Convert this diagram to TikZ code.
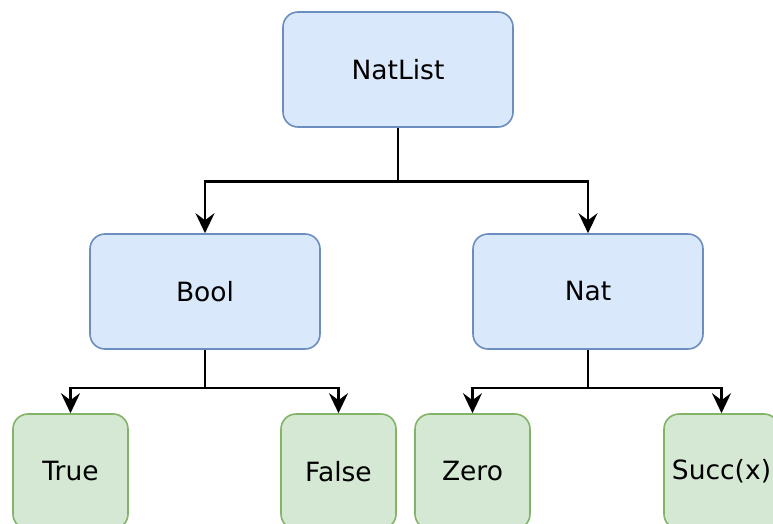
\documentclass[tikz,border=0pt]{standalone}
\usepackage{fontspec}
\setmainfont{DejaVu Sans}
\usetikzlibrary{arrows.meta}
\definecolor{bfill}{HTML}{DAE8FC}
\definecolor{bdraw}{HTML}{6C8EBF}
\definecolor{gfill}{HTML}{D5E8D4}
\definecolor{gdraw}{HTML}{82B366}
\begin{document}
\begin{tikzpicture}[x=1pt,y=-1pt,
  bluebox/.style={draw=bdraw,fill=bfill,line width=1.6pt,rounded corners=15pt,minimum width=230pt,minimum height=115pt,inner sep=0pt,font=\fontsize{26.5}{30}\selectfont},
  greenbox/.style={draw=gdraw,fill=gfill,line width=1.6pt,rounded corners=15pt,minimum width=115pt,minimum height=115pt,inner sep=0pt,font=\fontsize{26.5}{30}\selectfont},
  conn/.style={line width=2.4pt,-{Stealth[length=20pt,width=19pt,inset=7pt]}}]
\useasboundingbox (0,0) rectangle (773,524);
\node[bluebox] (natlist) at (398,69.5) {NatList};
\node[bluebox] (bool) at (205,291.5) {Bool};
\node[bluebox] (nat) at (588,291.5) {Nat};
\node[greenbox] (true) at (70.5,471.5) {True};
\node[greenbox] (false) at (338.5,471.5) {False};
\node[greenbox] (zero) at (472.5,471.5) {Zero};
\node[greenbox] (succ) at (721.5,471.5) {Succ(x)};
\draw[conn] (natlist.south) -- ++(0,53.5) -| (bool.north);
\draw[conn] (natlist.south) -- ++(0,53.5) -| (nat.north);
\draw[conn] (bool.south) -- ++(0,38) -| (true.north);
\draw[conn] (bool.south) -- ++(0,38) -| (false.north);
\draw[conn] (nat.south) -- ++(0,38) -| (zero.north);
\draw[conn] (nat.south) -- ++(0,38) -| (succ.north);
\end{tikzpicture}
\end{document}
